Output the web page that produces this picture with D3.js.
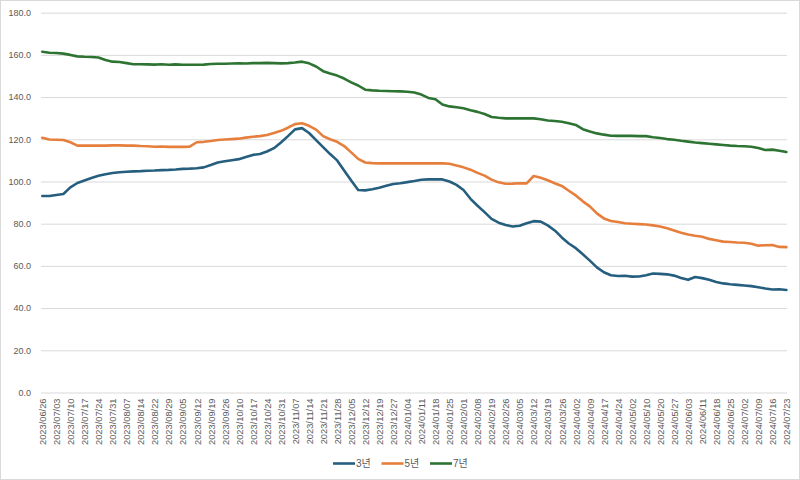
<!DOCTYPE html>
<html><head><meta charset="utf-8">
<script src="https://cdn.jsdelivr.net/npm/d3@7/dist/d3.min.js"></script>
<style>
html,body{margin:0;padding:0;background:#fff;}
svg{display:block;}
text{font-family:"Liberation Sans","Noto Sans CJK KR",Arial,sans-serif;}
</style></head>
<body><svg id="c" width="800" height="480"></svg>
<script>
const dateLabels = ["2023/06/26","2023/07/03","2023/07/10","2023/07/17","2023/07/24","2023/07/31","2023/08/07","2023/08/14","2023/08/22","2023/08/29","2023/09/05","2023/09/12","2023/09/19","2023/09/26","2023/10/10","2023/10/17","2023/10/24","2023/10/31","2023/11/07","2023/11/14","2023/11/21","2023/11/28","2023/12/05","2023/12/12","2023/12/19","2023/12/27","2024/01/04","2024/01/11","2024/01/18","2024/01/25","2024/02/01","2024/02/08","2024/02/19","2024/02/26","2024/03/05","2024/03/12","2024/03/19","2024/03/26","2024/04/02","2024/04/09","2024/04/17","2024/04/24","2024/05/02","2024/05/10","2024/05/20","2024/05/27","2024/06/03","2024/06/11","2024/06/18","2024/06/25","2024/07/02","2024/07/09","2024/07/16","2024/07/23"];

const seriesNames = ["3년","5년","7년"];

// values sampled twice per labelled date interval (half steps)
const y3 = [93.1,93.1,93.6,94.1,97.2,99.3,100.5,101.7,102.7,103.4,104.0,104.4,104.6,104.8,104.9,105.1,105.2,105.4,105.5,105.7,106.0,106.1,106.3,106.7,107.8,109.0,109.6,110.1,110.6,111.6,112.6,113.0,114.2,115.8,118.5,121.5,124.7,125.3,123.0,119.6,116.3,113.0,110.0,105.2,100.5,96.0,95.8,96.3,97.0,98.0,98.8,99.2,99.7,100.2,100.8,101.0,101.0,101.0,100.0,98.4,96.0,91.8,88.5,85.5,82.3,80.5,79.4,78.7,79.0,80.2,81.2,81.0,79.2,76.8,73.5,70.6,68.4,65.5,62.5,59.3,57.0,55.6,55.2,55.3,54.9,55.0,55.6,56.4,56.2,56.0,55.4,54.3,53.4,54.7,54.2,53.4,52.4,51.7,51.3,51.0,50.7,50.4,49.9,49.3,48.8,48.9,48.6];
const y5 = [120.7,119.9,119.8,119.7,118.6,117.0,117.0,117.0,117.0,117.0,117.1,117.1,117.0,117.0,116.8,116.7,116.5,116.6,116.4,116.4,116.4,116.5,118.6,118.8,119.2,119.7,119.9,120.1,120.3,120.8,121.2,121.5,122.0,123.0,124.0,125.5,127.2,127.6,126.4,124.6,121.5,120.0,118.8,116.8,113.8,110.7,109.0,108.7,108.6,108.6,108.6,108.6,108.6,108.6,108.6,108.6,108.6,108.6,108.4,107.6,106.7,105.6,104.1,102.8,100.9,99.6,98.9,99.0,99.2,99.1,102.6,101.8,100.6,99.2,97.9,95.6,93.4,90.6,88.2,84.9,82.5,81.3,80.8,80.2,80.0,79.8,79.6,79.2,78.7,77.8,76.8,75.7,74.9,74.3,73.8,72.8,72.2,71.5,71.3,71.1,71.0,70.5,69.6,69.8,69.9,69.0,68.9];
const y7 = [161.5,161.0,160.9,160.6,160.0,159.3,159.1,159.0,158.8,157.6,156.8,156.6,156.1,155.6,155.6,155.5,155.4,155.6,155.3,155.5,155.3,155.3,155.3,155.4,155.7,155.8,155.8,155.9,156.0,155.9,156.1,156.1,156.2,156.1,156.0,156.1,156.4,156.8,156.0,154.5,152.3,151.2,150.2,148.8,147.0,145.5,143.5,143.2,143.0,142.9,142.8,142.7,142.5,142.2,141.2,139.6,139.0,136.5,135.6,135.2,134.7,133.8,133.0,132.0,130.6,130.2,129.9,129.9,129.9,129.9,129.9,129.5,128.9,128.7,128.3,127.6,126.8,124.8,123.7,122.8,122.2,121.7,121.6,121.6,121.6,121.5,121.5,121.0,120.6,120.1,119.8,119.3,118.9,118.5,118.2,117.9,117.6,117.3,117.0,116.8,116.7,116.5,115.9,114.9,115.1,114.6,114.0];

const yTicks = [0,20,40,60,80,100,120,140,160,180];
const colors = ["#255E7E","#E67F3D","#2D7433"];

const svg = d3.select("#c");
svg.append("rect").attr("x",0.5).attr("y",0.5).attr("width",799).attr("height",479)
  .attr("fill","#fff").attr("stroke","#d9d9d9");

const x = d3.scaleLinear().domain([0, dateLabels.length-1]).range([42.3, 786.4]);
const y = d3.scaleLinear().domain([0,180]).range([392.5, 12.7]);

// y axis + gridlines
const gy = svg.append("g").attr("transform","translate(41,0)")
  .call(d3.axisLeft(y).tickValues(yTicks).tickFormat(d3.format(".1f")).tickSize(-746).tickPadding(10));
gy.select(".domain").remove();
gy.selectAll(".tick line").attr("stroke","#d9d9d9").attr("stroke-width",1);
gy.selectAll(".tick text").attr("fill","#595959").attr("font-size","9px");

// x axis labels
const gx = svg.append("g").attr("transform","translate(0,392.5)")
  .call(d3.axisBottom(x).tickValues(d3.range(dateLabels.length)).tickFormat(i=>dateLabels[i]).tickSize(0));
gx.select(".domain").remove();
gx.selectAll(".tick text")
  .attr("fill","#595959").attr("font-size","9.3px")
  .attr("transform","rotate(-90)")
  .attr("text-anchor","end")
  .attr("x",-6).attr("y",0).attr("dy","0.35em");

// lines
const all = [y3,y5,y7];
const line = d3.line().x((d,i)=>x(i/2)).y(d=>y(d));
all.forEach((vals,si)=>{
  svg.append("path").datum(vals).attr("d",line)
    .attr("fill","none").attr("stroke",colors[si]).attr("stroke-width",2.6)
    .attr("stroke-linejoin","round").attr("stroke-linecap","round");
});

// legend
const legX = [333,381.5,430];
const lg = svg.append("g");
seriesNames.forEach((n,i)=>{
  lg.append("line").attr("x1",legX[i]).attr("x2",legX[i]+22).attr("y1",463.5).attr("y2",463.5)
    .attr("stroke",colors[i]).attr("stroke-width",2.6);
  lg.append("text").attr("x",legX[i]+23).attr("y",463.5).attr("dy","0.35em")
    .attr("fill","#595959").attr("font-size","10px").text(n);
});
</script></body></html>
